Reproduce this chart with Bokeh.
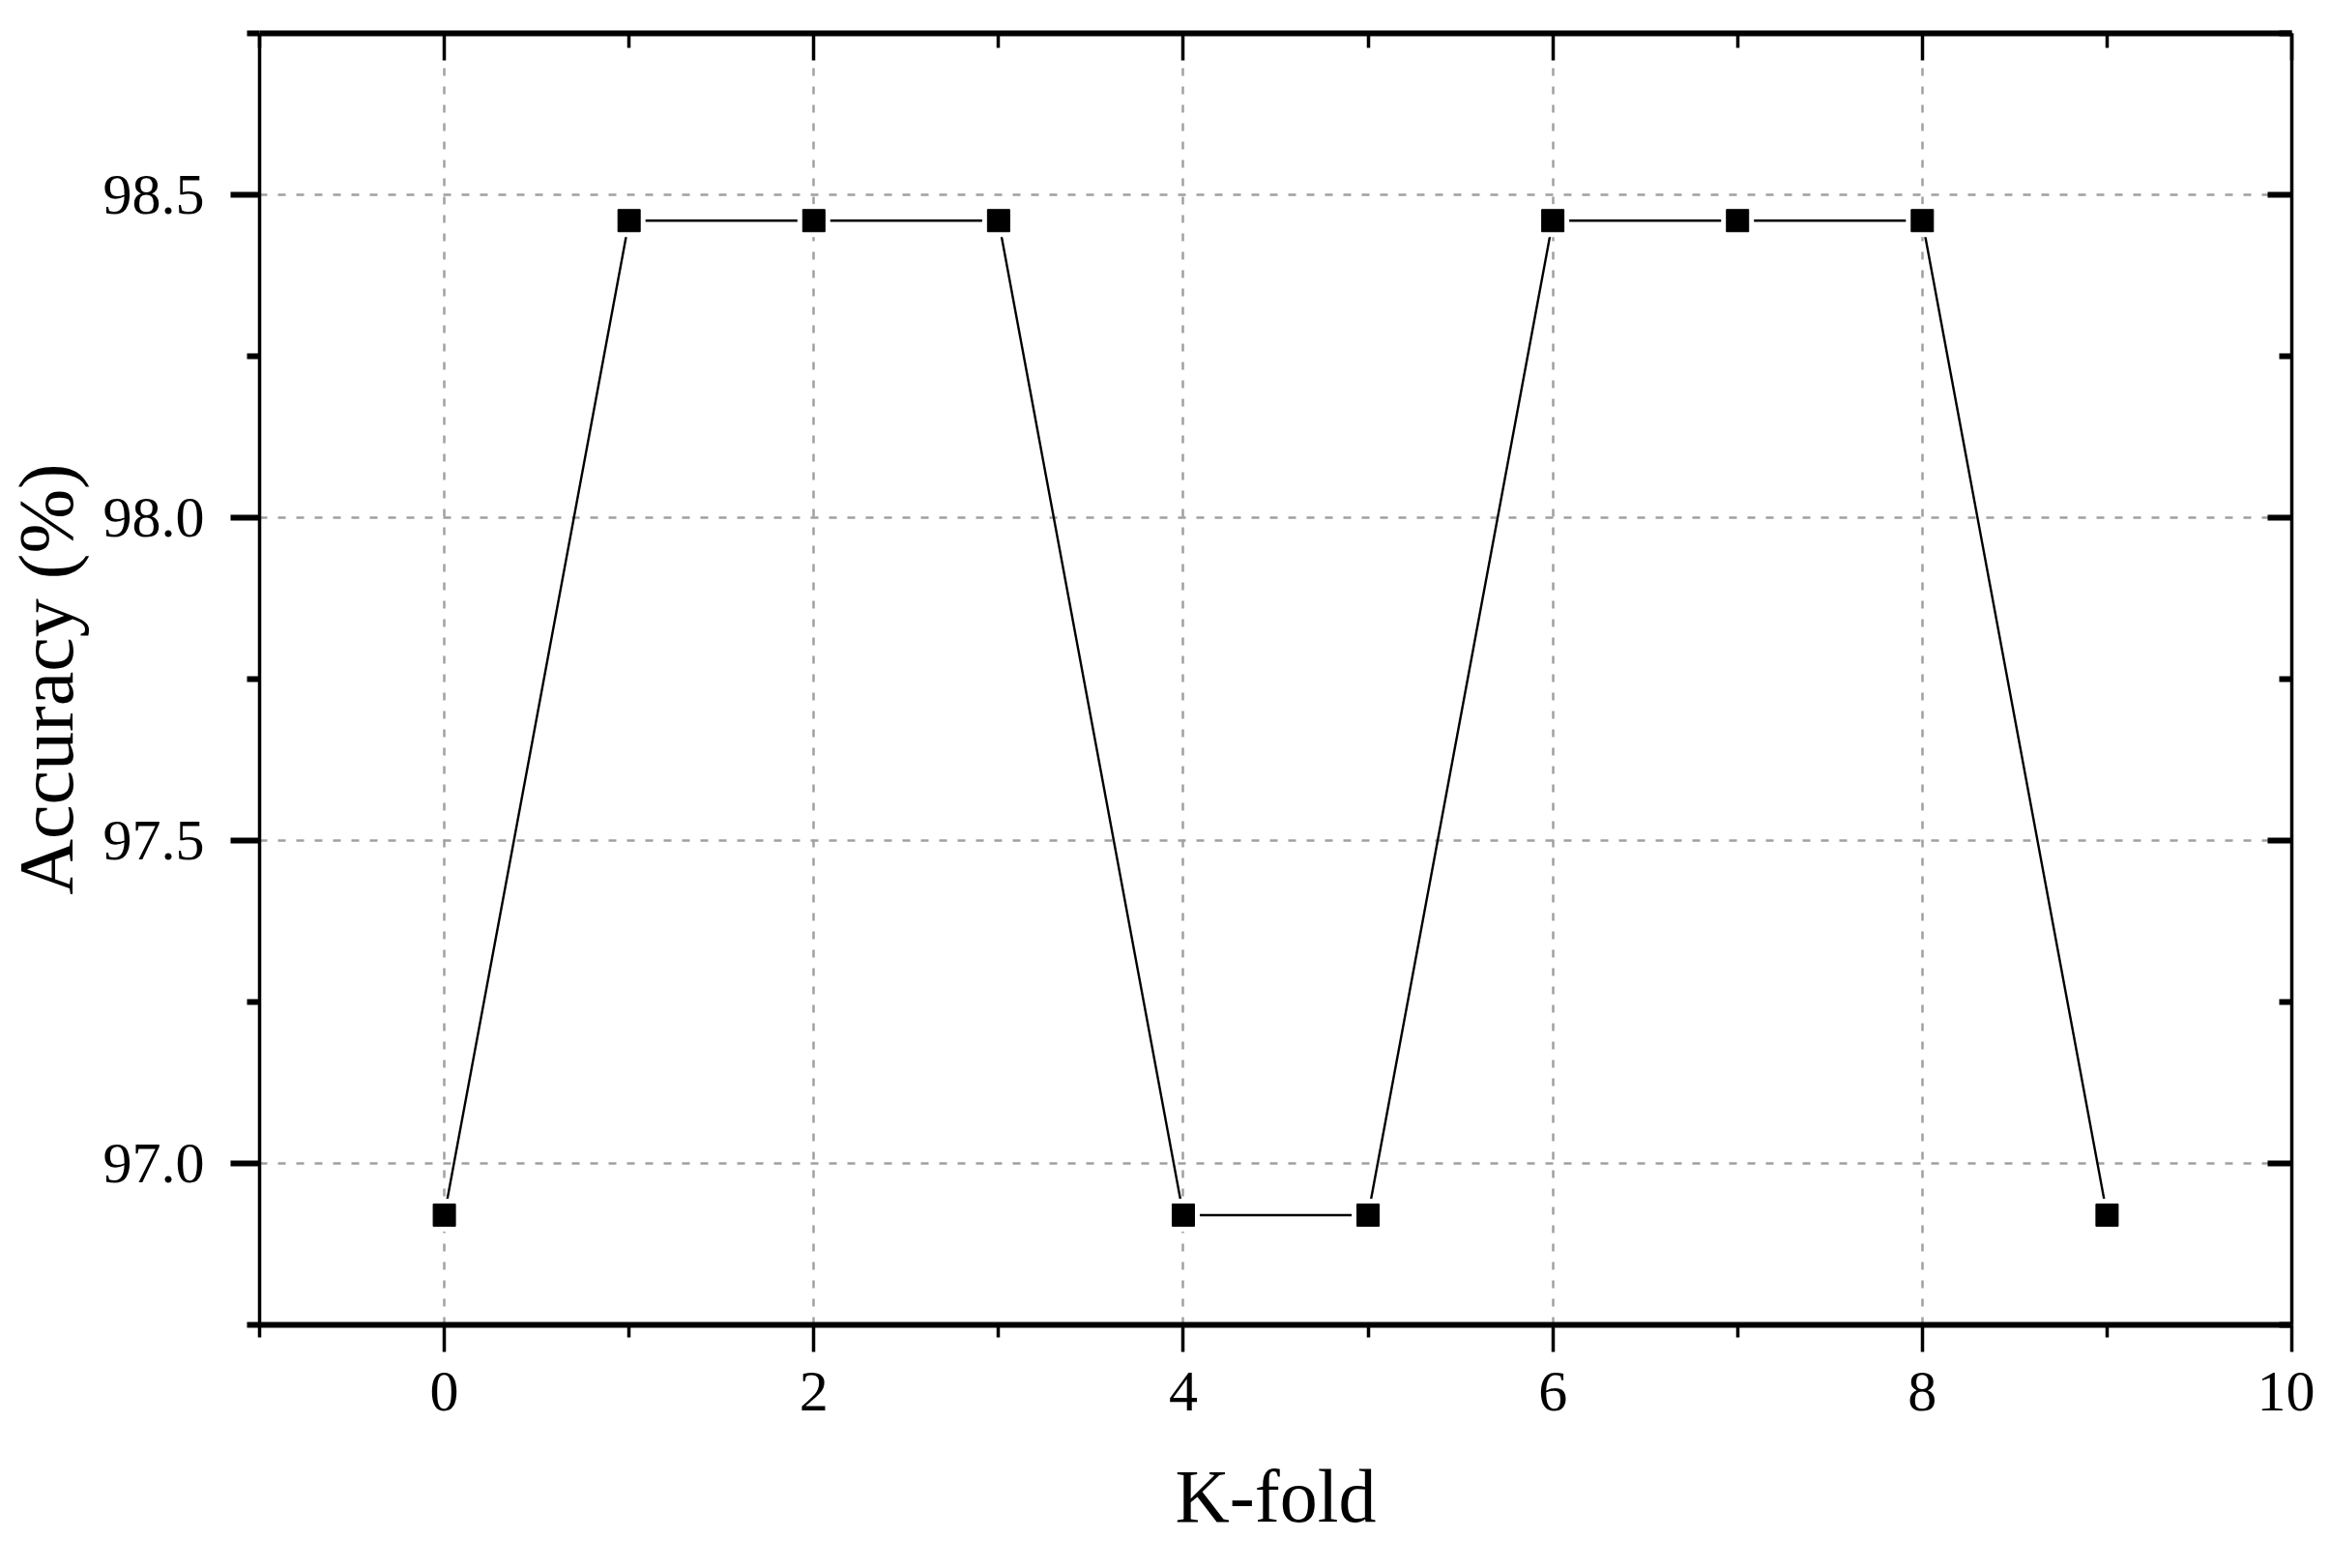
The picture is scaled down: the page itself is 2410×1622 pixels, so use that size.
from bokeh.plotting import figure
from bokeh.models import LinearAxis, FixedTicker, CustomJSTickFormatter, NumeralTickFormatter
from bokeh.embed import file_html
from bokeh.resources import INLINE

# ---- data ----
k_fold = [0, 1, 2, 3, 4, 5, 6, 7, 8, 9]
accuracy = [96.92, 98.46, 98.46, 98.46, 96.92, 96.92, 98.46, 98.46, 98.46, 96.92]

x_major = [0, 2, 4, 6, 8, 10]
x_minor = [-1, 1, 3, 5, 7, 9]
y_major = [97.0, 97.5, 98.0, 98.5]
y_minor = [96.75, 97.25, 97.75, 98.25, 98.75]

x_title = "K-fold"
y_title = "Accuracy (%)"

FONT = "Liberation Serif"

p = figure(
    width=2394, height=1606,
    x_range=(-1, 10), y_range=(96.75, 98.75),
    output_backend="svg", toolbar_location=None,
    min_border_left=262, min_border_right=24,
    min_border_top=34, min_border_bottom=236,
)
p.outline_line_color = None
p.background_fill_color = "white"
p.border_fill_color = "white"

xt = FixedTicker(ticks=x_major, minor_ticks=x_minor)
yt = FixedTicker(ticks=y_major, minor_ticks=y_minor)

# bottom axis
xb = p.xaxis[0]
xb.ticker = xt
xb.axis_line_width = 6
xb.major_tick_line_width = 3.5
xb.minor_tick_line_width = 3.5
xb.major_tick_out = 28
xb.major_tick_in = 0
xb.minor_tick_out = 13
xb.minor_tick_in = 0
xb.major_label_text_font = FONT
xb.major_label_text_font_size = "60px"
xb.major_label_text_color = "black"
xb.major_label_standoff = 21
xb.axis_label = x_title
xb.axis_label_text_font = FONT
xb.axis_label_text_font_size = "78px"
xb.axis_label_text_font_style = "normal"
xb.axis_label_text_color = "black"
xb.axis_label_standoff = 42

# left axis
yl = p.yaxis[0]
yl.ticker = yt
yl.formatter = NumeralTickFormatter(format="0.0")
yl.axis_line_width = 3.5
yl.major_tick_line_width = 6
yl.minor_tick_line_width = 6
yl.major_tick_out = 30
yl.major_tick_in = 0
yl.minor_tick_out = 13
yl.minor_tick_in = 0
yl.major_label_text_font = FONT
yl.major_label_text_font_size = "60px"
yl.major_label_text_color = "black"
yl.major_label_standoff = 27
yl.axis_label = y_title
yl.axis_label_text_font = FONT
yl.axis_label_text_font_size = "80px"
yl.axis_label_text_font_style = "normal"
yl.axis_label_text_color = "black"
yl.axis_label_standoff = 12

blank = CustomJSTickFormatter(code="return ''")

# top axis (ticks inward)
xa = LinearAxis(ticker=xt, formatter=blank)
xa.axis_line_width = 6
xa.major_tick_line_width = 3.5
xa.minor_tick_line_width = 3.5
xa.major_tick_in = 28
xa.major_tick_out = 0
xa.minor_tick_in = 15
xa.minor_tick_out = 0
xa.major_label_standoff = 0
p.add_layout(xa, "above")

# right axis (ticks inward)
yr = LinearAxis(ticker=yt, formatter=blank)
yr.axis_line_width = 3.5
yr.major_tick_line_width = 6
yr.minor_tick_line_width = 6
yr.major_tick_in = 25
yr.major_tick_out = 0
yr.minor_tick_in = 13
yr.minor_tick_out = 0
yr.major_label_standoff = 0
p.add_layout(yr, "right")

# grid
p.xgrid.ticker = FixedTicker(ticks=[t for t in x_major if t < 10])
p.ygrid.ticker = FixedTicker(ticks=y_major)
for g in (p.xgrid[0], p.ygrid[0]):
    g.grid_line_color = "#a0a0a0"
    g.grid_line_width = 2.5
    g.grid_line_dash = "8 11"

# data
p.line(k_fold, accuracy, line_color="black", line_width=2.4)
p.scatter(k_fold, accuracy, marker="square", size=34, fill_color="white", line_color=None)
p.scatter(k_fold, accuracy, marker="square", size=23, fill_color="black", line_color="black")

open("out.html", "w").write(file_html(p, INLINE))
